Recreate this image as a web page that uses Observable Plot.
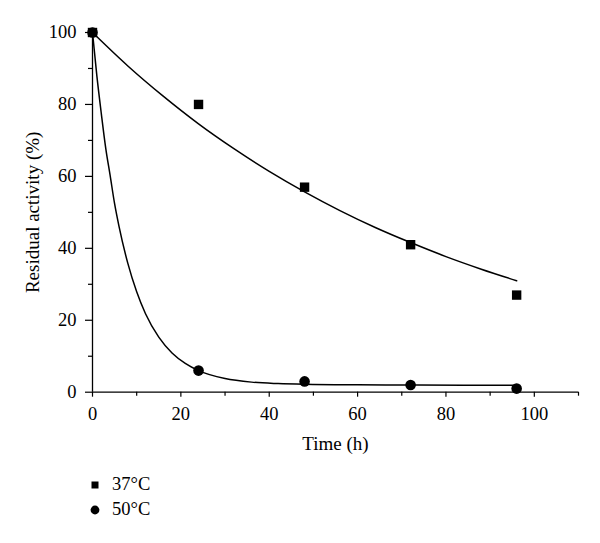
<!DOCTYPE html>
<html>
<head>
<meta charset="utf-8">
<script src="https://cdn.jsdelivr.net/npm/d3@7"></script>
<script src="https://cdn.jsdelivr.net/npm/@observablehq/plot@0.6"></script>
<style>
  body { margin: 0; background: #fff; }
  #wrap { position: relative; width: 600px; height: 543px; font-family: "Liberation Serif", "Times New Roman", serif; }
  #legend { position: absolute; left: 0; top: 472px; font-size: 18.5px; color: #000; }
  .row { display: flex; align-items: center; height: 25px; }
  .row svg { margin-left: 88px; }
  .row span { margin-left: 10px; }
</style>
</head>
<body>
<div id="wrap"></div>
<script>
// Measured points
const time = [0, 24, 48, 72, 96];
const act37 = [100, 80, 57, 41, 27];
const act50 = [100, 6, 3, 2, 1];

// Fitted curves
const fit37Time = [0, 8, 16, 24, 32, 40, 48, 56, 64, 72, 80, 88, 96];
const fit37 = [100, 90.7, 82.3, 74.6, 67.7, 61.4, 55.7, 50.5, 45.8, 41.6, 37.7, 34.2, 31.0];
const fit50Time = [0, 1, 2, 3, 4, 5, 6, 8, 10, 12, 15, 18, 21, 24, 30, 36, 42, 48, 60, 72, 84, 96];
const fit50 = [100, 87.8, 77.4, 67.8, 60.2, 52.4, 46.1, 35.8, 27.9, 21.8, 15.3, 10.9, 8.0, 6.0, 3.8, 2.8, 2.4, 2.2, 2.05, 2.0, 1.95, 1.95];

// Axis ticks
const xMajor = [0, 20, 40, 60, 80, 100];
const xMinor = [10, 30, 50, 70, 90, 110];
const yMajor = [0, 20, 40, 60, 80, 100];
const yMinor = [10, 30, 50, 70, 90];

const seriesNames = ["37°C", "50°C"];
const xLabel = "Time (h)";
const yLabel = "Residual activity (%)";

const pts37 = time.map((t, i) => ({t, v: act37[i]}));
const pts50 = time.map((t, i) => ({t, v: act50[i]}));
const line37 = fit37Time.map((t, i) => ({t, v: fit37[i]}));
const line50 = fit50Time.map((t, i) => ({t, v: fit50[i]}));

const H = 465;
const chart = Plot.plot({
  width: 600,
  height: H,
  marginTop: 32,
  marginLeft: 92,
  marginRight: 22,
  marginBottom: H - 391.7,
  style: {fontFamily: "Liberation Serif, serif", fontSize: "18px", color: "#000", background: "#fff"},
  x: {domain: [0, 110], axis: null},
  y: {domain: [0, 100], axis: null},
  marks: [
    Plot.axisX({ticks: xMajor, tickSize: 5, tickPadding: 10, label: null, stroke: "#000", strokeWidth: 1.2, fontSize: 18.5}),
    Plot.axisX({ticks: xMinor, tickSize: 4, tickFormat: () => "", label: null, stroke: "#000", strokeWidth: 1.2}),
    Plot.axisY({ticks: yMajor, tickSize: 7, tickPadding: 9, label: null, stroke: "#000", strokeWidth: 1.2, fontSize: 18.5}),
    Plot.axisY({ticks: yMinor, tickSize: 4, tickFormat: () => "", label: null, stroke: "#000", strokeWidth: 1.2}),
    Plot.ruleY([0], {stroke: "#000", strokeWidth: 1.3}),
    Plot.ruleX([0], {stroke: "#000", strokeWidth: 1.3}),
    Plot.line(line37, {x: "t", y: "v", stroke: "#000", strokeWidth: 1.5, curve: "monotone-x"}),
    Plot.line(line50, {x: "t", y: "v", stroke: "#000", strokeWidth: 1.5, curve: "monotone-x"}),
    Plot.dot(pts37, {x: "t", y: "v", symbol: "square", r: 5.3, fill: "#000", stroke: "none"}),
    Plot.dot(pts50, {x: "t", y: "v", symbol: "circle", r: 5.3, fill: "#000", stroke: "none"}),
    Plot.text([xLabel], {frameAnchor: "bottom", dy: 52, lineAnchor: "middle", textAnchor: "middle", fontSize: 19, fill: "#000"}),
    Plot.text([yLabel], {frameAnchor: "left", dx: -60, rotate: -90, lineAnchor: "middle", textAnchor: "middle", fontSize: 19, fill: "#000"})
  ]
});

const wrap = document.getElementById("wrap");
wrap.appendChild(chart);

const legend = document.createElement("div");
legend.id = "legend";
legend.innerHTML = `
  <div class="row"><svg width="14" height="14"><rect x="3.5" y="3.5" width="7" height="7" fill="#000"/></svg><span>${seriesNames[0]}</span></div>
  <div class="row"><svg width="14" height="14"><circle cx="7" cy="7" r="4.4" fill="#000"/></svg><span>${seriesNames[1]}</span></div>`;
wrap.appendChild(legend);
</script>
</body>
</html>
